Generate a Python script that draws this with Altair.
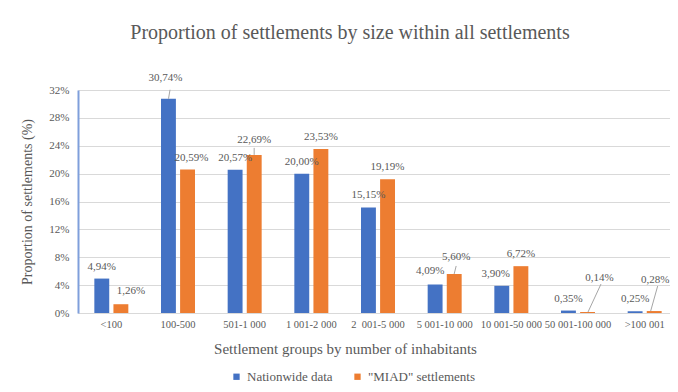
import altair as alt
import pandas as pd

categories = ["<100", "100-500", "501-1 000", "1 001-2 000", "2\u00a0 001-5 000",
              "5 001-10 000", "10 001-50 000", "50 001-100 000", ">100 001"]
series = ["Nationwide data", '"MIAD" settlements']
nationwide = [4.94, 30.74, 20.57, 20.00, 15.15, 4.09, 3.90, 0.35, 0.25]
miad = [1.26, 20.59, 22.69, 23.53, 19.19, 5.60, 6.72, 0.14, 0.28]
y_ticks = [0, 4, 8, 12, 16, 20, 24, 28, 32]
colors = ["#4472C4", "#ED7D31"]

rows = []
for c, n, m in zip(categories, nationwide, miad):
    rows.append({"cat": c, "series": series[0], "value": n})
    rows.append({"cat": c, "series": series[1], "value": m})
df = pd.DataFrame(rows)

FONT = "Liberation Serif"
GRAY = "#595959"

x_scale = alt.Scale(paddingInner=0.49, paddingOuter=0.245, range=[0, 600])
x_axis = alt.Axis(labelAngle=0, labelFont=FONT, labelFontSize=10.5, labelColor=GRAY,
                  labelPadding=6, ticks=False, domainColor="#d9d9d9", domainWidth=1,
                  titleFont=FONT, titleFontSize=15, titleFontWeight="normal",
                  titleColor=GRAY, titlePadding=12, titleX=267, grid=False,
                  labelOverlap=False)
x_title = "Settlement groups by number of inhabitants"


def x_enc(**kw):
    return alt.X("cat:N", sort=categories, scale=x_scale, axis=x_axis,
                 title=x_title, **kw)


xoff_enc = alt.XOffset("series:N", sort=series,
                       scale=alt.Scale(paddingInner=0.22, paddingOuter=0))
y_enc = alt.Y(
    "value:Q", scale=alt.Scale(domain=[0, 32], nice=False),
    title="Proportion of settlements (%)",
    axis=alt.Axis(values=y_ticks, labelExpr="datum.value + '%'", labelFont=FONT,
                  labelFontSize=11, labelColor=GRAY, labelPadding=9, ticks=False,
                  domainColor="#7F9FDB", domainWidth=2, gridColor="#d9d9d9",
                  gridWidth=1, titleFont=FONT, titleFontSize=14,
                  titleFontWeight="normal", titleColor=GRAY, titlePadding=14,
                  labelOverlap=False),
)

base = alt.Chart(df)

bars = base.mark_bar().encode(
    x=x_enc(), xOffset=xoff_enc, y=y_enc,
    color=alt.Color("series:N", sort=series,
                    scale=alt.Scale(domain=series, range=colors),
                    legend=alt.Legend(title=None, orient="none", legendX=152,
                                      legendY=280, direction="horizontal",
                                      symbolType="square", symbolSize=40,
                                      symbolStrokeWidth=0, labelFont=FONT,
                                      labelFontSize=13, labelColor=GRAY,
                                      columnPadding=18, labelOffset=4)),
)

label_expr = "replace(format(datum.value, '.2f'), '.', ',') + '%'"

# label nudges (pixels): label -> (dx, dy)
nudges = {
    "1,26%": (10, -13),
    "30,74%": (-3, -21),
    "20,59%": (4, -12),
    "22,69%": (0, -15),
    "4,09%": (-5, -13),
    "3,90%": (-6, -12),
    "5,60%": (2, -17),
    "0,14%": (12, -34),
    "0,28%": (1, -31),
}


def text_layer(dx, dy, filt):
    return base.mark_text(font=FONT, fontSize=11, color=GRAY, baseline="middle",
                          dx=dx, dy=dy).encode(
        x=x_enc(), xOffset=xoff_enc, y=y_enc, text="label:N",
    ).transform_calculate(label=label_expr).transform_filter(filt)


specials = "[" + ",".join("'" + k + "'" for k in nudges) + "]"
layers = [bars, text_layer(0, -12, "indexof(" + specials + ", datum.label) < 0")]
for k, (dx, dy) in nudges.items():
    layers.append(text_layer(dx, dy, "datum.label == '" + k + "'"))

# leader lines: label -> (start x offset, end x offset, end y offset)
leaders = {
    "30,74%": (-9.5, -8, -9),
    "22,69%": (9.5, 9.5, -7),
    "5,60%": (9.5, 11.5, -8),
    "0,14%": (10, 23, -28),
    "0,28%": (6, 13, -25),
}
for k, (sx, ex, ey) in leaders.items():
    layers.append(
        base.mark_rule(color="#a6a6a6", strokeWidth=1, xOffset=sx, x2Offset=ex,
                       y2Offset=ey).encode(
            x=x_enc(bandPosition=0.5),
            x2=alt.X2("cat", bandPosition=0.5),
            y=y_enc, y2=alt.Y2("value"),
        ).transform_calculate(label=label_expr)
        .transform_filter("datum.label == '" + k + "'")
    )

chart = alt.layer(*layers).properties(
    width=592, height=223,
    title=alt.Title("Proportion of settlements by size within all settlements",
                    font=FONT, fontSize=20, fontWeight="normal", color=GRAY,
                    anchor="middle", dx=-24, offset=29),
    autosize=alt.AutoSizeParams(type="none"),
    padding={"left": 70, "top": 82, "right": 0, "bottom": 74},
    background="white",
).configure(font=FONT).configure_axis(
    labelFont=FONT, titleFont=FONT
).configure_legend(labelFont=FONT).configure_text(font=FONT).configure_view(stroke=None)

chart.save("out.html", embed_options={"renderer": "svg", "actions": False})
